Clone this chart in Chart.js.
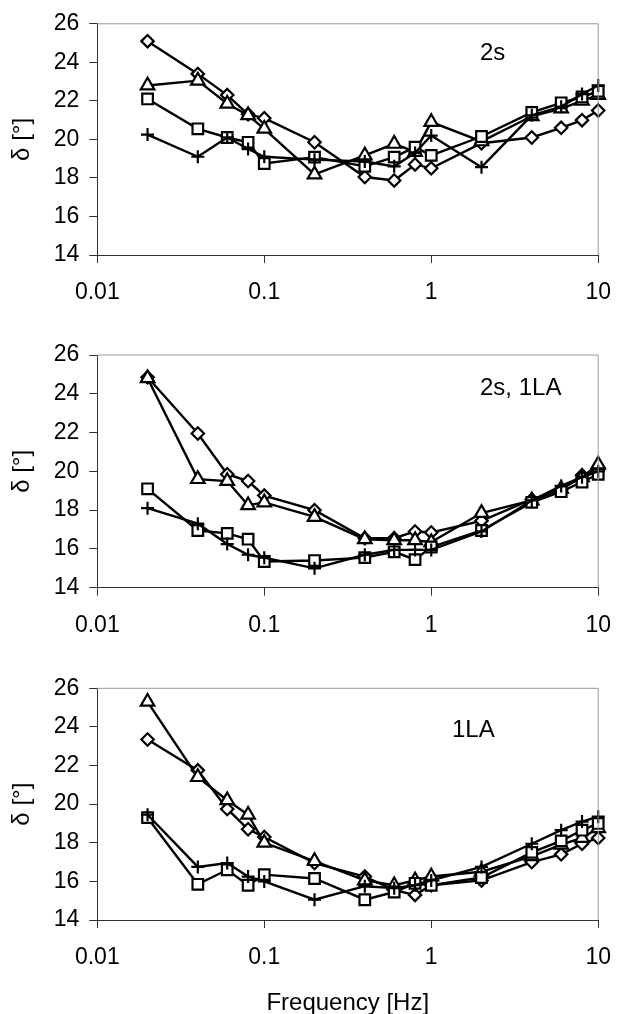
<!DOCTYPE html>
<html>
<head>
<meta charset="utf-8">
<script src="https://cdn.jsdelivr.net/npm/chart.js@4.4.1/dist/chart.umd.min.js"></script>
<style>
  html, body { margin: 0; padding: 0; background: #fff; overflow: hidden; }
  body { width: 627px; height: 1014px; position: relative; }
  canvas { position: absolute; left: 0; display: block; }
</style>
</head>
<body>
<canvas id="c1" width="627" height="320" style="top:0"></canvas>
<canvas id="c2" width="627" height="330" style="top:320px"></canvas>
<canvas id="c3" width="627" height="370" style="top:650px"></canvas>
<script>
// frequencies [Hz] shared by every series
const freq = [0.02, 0.04, 0.06, 0.08, 0.1, 0.2, 0.4, 0.6, 0.8, 1, 2, 4, 6, 8, 10];
const xTicks = [0.01, 0.1, 1, 10];

// panel "2s"
const s2Diamond  = [25.1, 23.4, 22.3, 21.3, 21.1, 19.85, 18.05, 17.87, 18.7, 18.5, 19.8, 20.1, 20.6, 21.0, 21.5];
const s2Triangle = [22.8, 23.05, 21.85, 21.25, 20.55, 18.18, 19.17, 19.77, 19.35, 20.9, 19.9, 21.2, 21.6, 22.0, 22.3];
const s2Square   = [22.1, 20.55, 20.1, 19.85, 18.75, 19.08, 18.6, 19.08, 19.6, 19.17, 20.15, 21.4, 21.9, 22.2, 22.5];
const s2Plus     = [20.25, 19.1, 20.1, 19.5, 19.1, 18.95, 18.85, 18.6, 19.3, 20.2, 18.56, 21.25, 21.7, 22.35, 22.8];

// panel "2s, 1LA"
const s2laDiamond  = [24.85, 21.95, 19.85, 19.5, 18.75, 18.0, 16.55, 16.55, 16.9, 16.85, 17.45, 18.55, 19.05, 19.8, 20.1];
const s2laTriangle = [24.8, 19.6, 19.5, 18.25, 18.4, 17.65, 16.5, 16.45, 16.45, 16.35, 17.85, 18.5, 19.1, 19.7, 20.35];
const s2laSquare   = [19.1, 16.95, 16.8, 16.5, 15.35, 15.4, 15.55, 15.85, 15.45, 16.1, 16.95, 18.4, 18.95, 19.45, 19.85];
const s2laPlus     = [18.1, 17.3, 16.25, 15.7, 15.55, 15.0, 15.7, 15.95, 15.95, 15.95, 16.9, 18.5, 19.25, 19.7, 20.0];

// panel "1LA"
const laDiamond  = [23.35, 21.75, 19.75, 18.7, 18.3, 16.95, 16.25, 15.55, 15.3, 15.8, 16.05, 17.0, 17.4, 17.95, 18.25];
const laTriangle = [25.3, 21.4, 20.2, 19.45, 18.0, 17.05, 16.05, 15.8, 16.05, 16.25, 16.5, 17.3, 17.9, 18.25, 18.75];
const laSquare   = [19.3, 15.85, 16.6, 15.8, 16.35, 16.15, 15.05, 15.45, 15.9, 15.8, 16.2, 17.5, 18.1, 18.65, 19.0];
const laPlus     = [19.45, 16.75, 16.95, 16.25, 16.0, 15.05, 15.75, 15.65, 15.8, 16.05, 16.75, 17.95, 18.65, 19.1, 19.35];

const FONT = '"Liberation Sans", Arial, sans-serif';

// top/right frame lines and the panel label
const framePlugin = {
  id: 'frame',
  afterDraw(chart, args, opts) {
    const { ctx, chartArea: a } = chart;
    ctx.save();
    ctx.strokeStyle = '#999';
    ctx.lineWidth = 1;
    ctx.beginPath();
    ctx.moveTo(a.left, a.top);
    ctx.lineTo(a.right, a.top);
    ctx.lineTo(a.right, a.bottom);
    ctx.stroke();
    ctx.fillStyle = '#000';
    ctx.font = '24px ' + FONT;
    ctx.textBaseline = 'middle';
    ctx.fillText(opts.text, opts.x, opts.y);
    ctx.restore();
  }
};

function series(vals, style, radius) {
  return {
    data: freq.map((f, i) => ({ x: f, y: vals[i] })),
    borderColor: '#000',
    borderWidth: 2.4,
    pointStyle: style,
    pointRadius: radius,
    pointBorderWidth: 2.2,
    pointBorderColor: '#000',
    pointBackgroundColor: '#fff',
    tension: 0,
    fill: false,
    clip: false
  };
}

function makePanel(id, sets, label, top, axisH, withTitle) {
  new Chart(document.getElementById(id), {
    type: 'line',
    data: {
      datasets: [
        series(sets[3], 'cross', 6.5),
        series(sets[2], 'rect', 7.5),
        series(sets[1], 'triangle', 7.8),
        series(sets[0], 'rectRot', 6.2)
      ]
    },
    plugins: [framePlugin],
    options: {
      responsive: false,
      animation: false,
      layout: { padding: { top: top, right: 17, left: 0, bottom: 0 } },
      plugins: {
        legend: { display: false },
        tooltip: { enabled: false },
        frame: label
      },
      scales: {
        x: {
          type: 'logarithmic',
          min: 0.01,
          max: 10,
          afterBuildTicks: s => { s.ticks = xTicks.map(v => ({ value: v })); },
          afterFit: s => { s.height = axisH; },
          ticks: {
            callback: v => String(v),
            autoSkip: false,
            maxRotation: 0,
            padding: 16,
            color: '#000',
            font: { family: FONT, size: 23 }
          },
          grid: { drawOnChartArea: false, tickLength: 8, color: '#333' },
          border: { color: '#333', width: 1 },
          title: {
            display: withTitle,
            text: 'Frequency [Hz]',
            color: '#000',
            font: { family: FONT, size: 24, lineHeight: 1 },
            padding: { top: 0, bottom: 5 }
          }
        },
        y: {
          min: 14,
          max: 26,
          afterFit: s => { s.width = 97.3; },
          ticks: {
            stepSize: 2,
            padding: 10,
            color: '#000',
            font: { family: FONT, size: 23 }
          },
          grid: { drawOnChartArea: false, tickLength: 8, color: '#333' },
          border: { color: '#333', width: 1 },
          title: {
            display: true,
            text: 'δ [°]',
            color: '#000',
            font: { family: FONT, size: 24, lineHeight: 1 },
            padding: { top: 10, bottom: 0 }
          }
        }
      }
    }
  });
}

makePanel('c1', [s2Diamond, s2Triangle, s2Square, s2Plus], { text: '2s', x: 480, y: 53 }, 22.7, 65, false);
makePanel('c2', [s2laDiamond, s2laTriangle, s2laSquare, s2laPlus], { text: '2s, 1LA', x: 480, y: 68 }, 35, 62.3, false);
makePanel('c3', [laDiamond, laTriangle, laSquare, laPlus], { text: '1LA', x: 452, y: 80 }, 38.3, 100, true);
</script>
</body>
</html>
